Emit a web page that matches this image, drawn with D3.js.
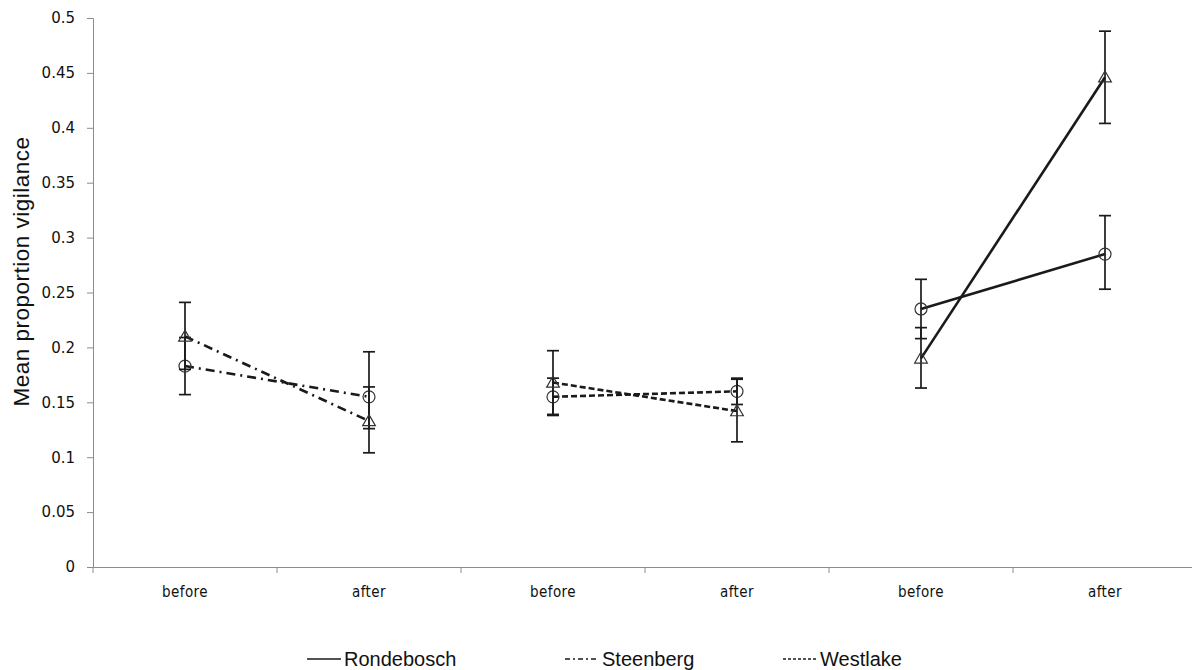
<!DOCTYPE html>
<html><head><meta charset="utf-8">
<script src="https://cdn.jsdelivr.net/npm/d3@7/dist/d3.min.js"></script>
<style>body{margin:0;background:#fff}</style>
</head><body>
<svg id="c" width="1192" height="670"></svg>
<script>
const categories = ["before","after","before","after","before","after"];
const yTicks = [0,0.05,0.1,0.15,0.2,0.25,0.3,0.35,0.4,0.45,0.5];
const seriesNames = ["Rondebosch","Steenberg","Westlake"];
// each site: [circle series, triangle series]; idx = category position
const steenCircle = {idx:[0,1], val:[0.183,0.155], lo:[0.157,0.126], hi:[0.209,0.196]};
const steenTri    = {idx:[0,1], val:[0.210,0.133], lo:[0.180,0.104], hi:[0.241,0.164]};
const westCircle  = {idx:[2,3], val:[0.155,0.160], lo:[0.138,0.148], hi:[0.172,0.172]};
const westTri     = {idx:[2,3], val:[0.168,0.142], lo:[0.139,0.114], hi:[0.197,0.171]};
const rondCircle  = {idx:[4,5], val:[0.235,0.285], lo:[0.208,0.253], hi:[0.262,0.320]};
const rondTri     = {idx:[4,5], val:[0.190,0.446], lo:[0.163,0.404], hi:[0.218,0.488]};

const svg = d3.select("#c");
const L=93, R=1197, T=18, B=567;
const x = d3.scaleBand().domain(d3.range(categories.length)).range([L,R]).padding(0);
const y = d3.scaleLinear().domain([0,0.5]).range([B,T]);
const cx = i => x(i)+x.bandwidth()/2;
const ink="#1a1a1a";

// y axis
const ya = svg.append("g").attr("transform",`translate(${L},0)`)
  .call(d3.axisLeft(y).tickValues(yTicks).tickSize(6).tickFormat(d=>d3.format("")(+d.toFixed(2))));
ya.select(".domain").attr("stroke","#8c8c8c");
ya.selectAll(".tick line").attr("stroke","#8c8c8c");
ya.selectAll("text").attr("font-family","DejaVu Sans, Verdana, sans-serif").attr("font-size",15)
  .attr("fill","#111").attr("x",-18);

// x axis
const xa = svg.append("g").attr("transform",`translate(0,${B})`)
  .call(d3.axisBottom(x).tickSize(0).tickFormat(i=>categories[i]));
xa.select(".domain").attr("stroke","#8c8c8c");
xa.selectAll("text").attr("font-family","DejaVu Sans Condensed, DejaVu Sans, sans-serif")
  .attr("font-size",15).attr("letter-spacing",0.4).attr("fill","#111").attr("y",30).attr("dy",0);
// boundary ticks
svg.append("g").selectAll("line").data(d3.range(categories.length+1)).join("line")
  .attr("x1",i=>i<categories.length?x(i):R).attr("x2",i=>i<categories.length?x(i):R)
  .attr("y1",B).attr("y2",B+6).attr("stroke","#8c8c8c");

// y title
svg.append("text").attr("transform",`translate(29,${(133+410)/2}) rotate(-90)`)
  .attr("text-anchor","middle").attr("font-family","Liberation Sans, Arial, sans-serif")
  .attr("font-size",22.5).attr("letter-spacing",0.5).attr("fill","#111").text("Mean proportion vigilance");

const dashes = {Rondebosch:null, Steenberg:"9,5,2,5", Westlake:"6,3"};
const groups = [
  {name:"Steenberg", s:[steenCircle, steenTri]},
  {name:"Westlake", s:[westCircle, westTri]},
  {name:"Rondebosch", s:[rondCircle, rondTri]}
];
const line = d3.line().x(d=>cx(d.i)).y(d=>y(d.v));
groups.forEach(g=>{
  g.s.forEach((s,k)=>{
    const pts = s.idx.map((i,j)=>({i, v:s.val[j], lo:s.lo[j], hi:s.hi[j]}));
    const eb = svg.append("g").attr("stroke",ink).attr("stroke-width",1.7);
    pts.forEach(p=>{
      eb.append("line").attr("x1",cx(p.i)).attr("x2",cx(p.i)).attr("y1",y(p.lo)).attr("y2",y(p.hi));
      [p.lo,p.hi].forEach(v=>eb.append("line").attr("x1",cx(p.i)-6).attr("x2",cx(p.i)+6).attr("y1",y(v)).attr("y2",y(v)));
    });
    svg.append("path").datum(pts).attr("d",line).attr("fill","none").attr("stroke",ink)
      .attr("stroke-width",2.6).attr("stroke-dasharray",dashes[g.name]);
    pts.forEach(p=>{
      if(k===0){
        svg.append("circle").attr("cx",cx(p.i)).attr("cy",y(p.v)).attr("r",6)
          .attr("fill","none").attr("stroke","#333").attr("stroke-width",1.2);
      } else {
        svg.append("path").attr("transform",`translate(${cx(p.i)},${y(p.v)+1})`)
          .attr("d",d3.symbol(d3.symbolTriangle,70)()).attr("fill","none")
          .attr("stroke","#333").attr("stroke-width",1.2);
      }
    });
  });
});

// legend
const leg = [{n:"Rondebosch",x:307},{n:"Steenberg",x:565},{n:"Westlake",x:783}];
leg.forEach(l=>{
  svg.append("line").attr("x1",l.x).attr("x2",l.x+34).attr("y1",659).attr("y2",659)
    .attr("stroke",ink).attr("stroke-width",1.6).attr("stroke-dasharray",
      l.n==="Rondebosch"?null:(l.n==="Steenberg"?"5,3,2,3":"3,2"));
  svg.append("text").attr("x",l.x+37).attr("y",666).attr("font-family","Liberation Sans Narrow, Arial Narrow, sans-serif")
    .attr("font-size",20).attr("fill","#111").text(l.n);
});
</script>
</body></html>
